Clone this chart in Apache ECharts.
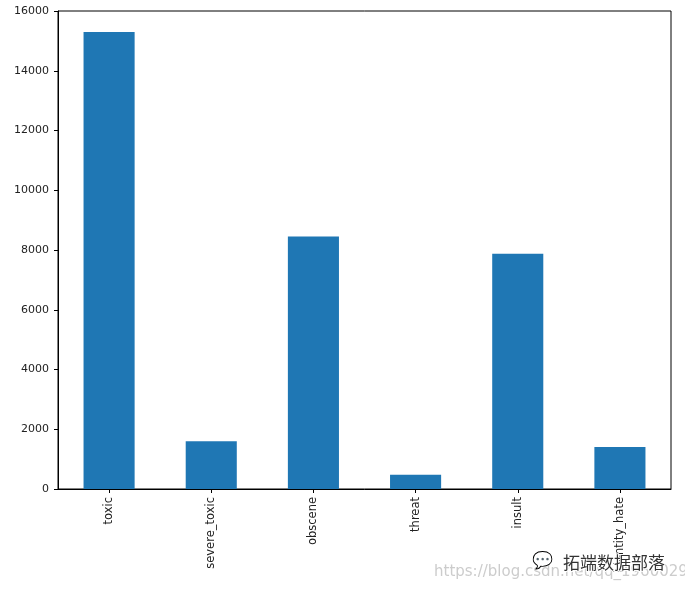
<!DOCTYPE html>
<html>
<head>
<meta charset="utf-8">
<script src="https://cdn.jsdelivr.net/npm/echarts@6/dist/echarts.min.js"></script>
<style>html,body{margin:0;padding:0;background:#fff;}#c{width:685px;height:592px;}</style>
</head>
<body>
<div id="c"></div>
<script>
const categories = ['toxic', 'severe_toxic', 'obscene', 'threat', 'insult', 'identity_hate'];
const counts = [15294, 1595, 8449, 478, 7877, 1405];
const yTicks = [0, 2000, 4000, 6000, 8000, 10000, 12000, 14000, 16000];

const chart = echarts.init(document.getElementById('c'), null, {renderer: 'canvas'});
chart.setOption({
  animation: false,
  backgroundColor: '#fff',
  grid: {left: 58, right: 14, top: 11, bottom: 103, show: true, borderColor: '#000', borderWidth: 1, backgroundColor: 'transparent'},
  xAxis: {
    type: 'category',
    data: categories,
    axisLine: {show: true, lineStyle: {color: '#000', width: 1}},
    axisTick: {show: true, alignWithLabel: true, length: 4, lineStyle: {color: '#000'}},
    axisLabel: {rotate: 90, color: '#222', fontFamily: 'DejaVu Sans', fontSize: 11.5, margin: 8, interval: 0}
  },
  yAxis: {
    type: 'value',
    min: yTicks[0],
    max: yTicks[yTicks.length - 1],
    interval: 2000,
    splitLine: {show: false},
    axisLine: {show: true, lineStyle: {color: '#000', width: 1}},
    axisTick: {show: true, length: 4, lineStyle: {color: '#000'}},
    axisLabel: {color: '#222', fontFamily: 'DejaVu Sans', fontSize: 11, margin: 9, formatter: v => String(v)}
  },
  series: [{
    type: 'bar',
    data: counts,
    barWidth: '50%',
    itemStyle: {color: '#1f77b4'}
  }],
  graphic: [
    {type: 'text', left: 434, top: 565, z: 99, style: {text: 'https://blog.csdn.net/qq_19600291', font: '15px "DejaVu Sans"', fill: 'rgba(195,195,195,0.85)'}},
    {type: 'text', left: 532, top: 553, z: 100, style: {text: '💬', fontSize: 17, fill: '#888'}},
    {type: 'text', left: 562, top: 553, z: 100, style: {text: '拓端数据部落', font: '17px "Noto Sans CJK SC"', fill: '#333', stroke: '#fff', lineWidth: 2}}
  ]
});
</script>
</body>
</html>
